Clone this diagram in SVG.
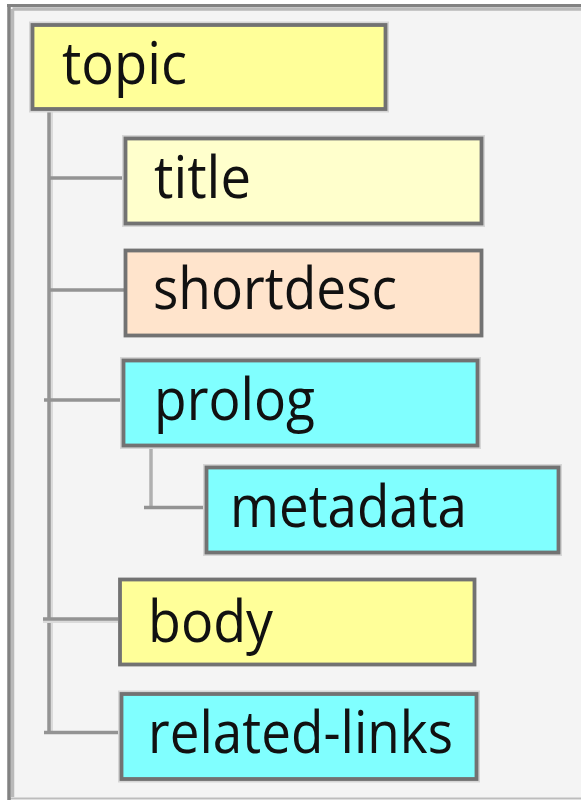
<svg xmlns="http://www.w3.org/2000/svg" width="581" height="800" viewBox="0 0 581 800">
  <defs>
    <style>
      .node rect { stroke: #727272; stroke-width: 3.8; }
      .node .halo { fill: none; stroke: #d6d6d6; stroke-width: 7; }
      .node text { font-family: "Open Sans", "DejaVu Sans", sans-serif; font-size: 58px; fill: #111; }
      .yellow { fill: #ffff99; }
      .pale { fill: #ffffcc; }
      .peach { fill: #ffe4cc; }
      .cyan { fill: #80ffff; }
      .conn line { stroke: #939393; stroke-width: 3.5; fill: none; }
      .conn .lite { stroke: #b0b0b0; }
      .conn .shade { stroke: #dadada; stroke-width: 3; }
    </style>
  </defs>

  <!-- panel with bevelled frame -->
  <rect x="0" y="0" width="581" height="800" fill="#ffffff"/>
  <rect x="9" y="5.5" width="600" height="793" fill="#f4f4f4"/>
  <line x1="9" y1="798.5" x2="581" y2="798.5" stroke="#bdbdbd" stroke-width="2"/>
  <line x1="12.5" y1="9" x2="581" y2="9" stroke="#b9b9b9" stroke-width="3.5"/>
  <line x1="12.5" y1="9" x2="12.5" y2="797" stroke="#b9b9b9" stroke-width="3.5"/>
  <line x1="7" y1="5.5" x2="581" y2="5.5" stroke="#828282" stroke-width="3"/>
  <line x1="9" y1="4" x2="9" y2="800" stroke="#828282" stroke-width="3.5"/>

  <!-- tree connectors -->
  <g id="connectors" class="conn">
    <line class="shade" x1="51.5" y1="110" x2="51.5" y2="734"/>
    <line x1="49" y1="110" x2="49" y2="733"/>
    <line x1="49" y1="178" x2="124" y2="178"/>
    <line x1="49" y1="290" x2="124" y2="290"/>
    <line x1="44" y1="400" x2="122" y2="400"/>
    <line class="lite" x1="151" y1="447" x2="151" y2="508"/>
    <line x1="144" y1="507.5" x2="205" y2="507.5"/>
    <line class="shade" x1="43" y1="621.5" x2="118" y2="621.5"/>
    <line x1="43" y1="619" x2="118" y2="619"/>
    <line x1="44" y1="732.5" x2="120" y2="732.5"/>
  </g>

  <g id="topic" class="node">
    <rect class="halo" x="32.5" y="25" width="353" height="84"/>
    <rect class="yellow" x="32.5" y="25" width="353" height="84"/>
    <text x="62" y="84" textLength="125" lengthAdjust="spacingAndGlyphs">topic</text>
  </g>

  <g id="title" class="node">
    <rect class="halo" x="125.5" y="138.5" width="356" height="85"/>
    <rect class="pale" x="125.5" y="138.5" width="356" height="85"/>
    <text x="154" y="198" textLength="97" lengthAdjust="spacingAndGlyphs">title</text>
  </g>

  <g id="shortdesc" class="node">
    <rect class="peach" x="125.5" y="250.5" width="356" height="85"/>
    <text x="153" y="309" textLength="244" lengthAdjust="spacingAndGlyphs">shortdesc</text>
  </g>

  <g id="prolog" class="node">
    <rect class="halo" x="123.5" y="360.5" width="354" height="85"/>
    <rect class="cyan" x="123.5" y="360.5" width="354" height="85"/>
    <text x="154" y="420" textLength="161" lengthAdjust="spacingAndGlyphs">prolog</text>
  </g>

  <g id="metadata" class="node">
    <rect class="halo" x="206.5" y="467.5" width="352" height="85"/>
    <rect class="cyan" x="206.5" y="467.5" width="352" height="85"/>
    <text x="230" y="527" textLength="237" lengthAdjust="spacingAndGlyphs">metadata</text>
  </g>

  <g id="body" class="node">
    <rect class="yellow" x="120" y="579.5" width="354.5" height="85"/>
    <text x="148" y="642" textLength="125" lengthAdjust="spacingAndGlyphs">body</text>
  </g>

  <g id="related-links" class="node">
    <rect class="halo" x="121.5" y="694" width="355" height="85"/>
    <rect class="cyan" x="121.5" y="694" width="355" height="85"/>
    <text x="148" y="753" textLength="305" lengthAdjust="spacingAndGlyphs">related-links</text>
  </g>
</svg>
